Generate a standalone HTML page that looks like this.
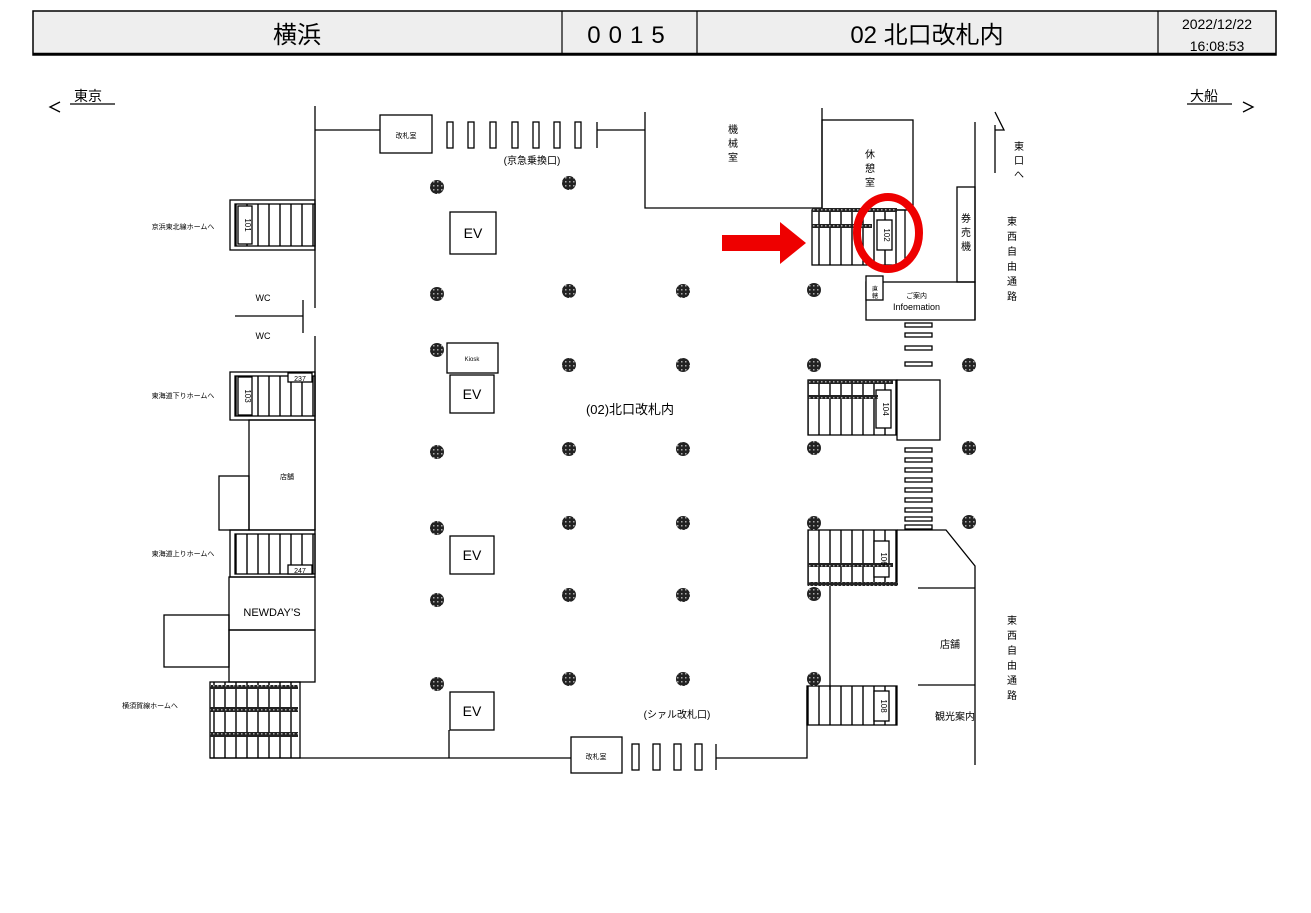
<!DOCTYPE html>
<html><head><meta charset="utf-8"><style>
html,body{margin:0;padding:0;background:#fff;}
svg{display:block;font-family:"Liberation Sans","Noto Sans CJK JP",sans-serif;}
</style></head><body>
<svg width="1311" height="913" viewBox="0 0 1311 913" xmlns="http://www.w3.org/2000/svg">
<defs>
<pattern id="st" width="11" height="10" patternUnits="userSpaceOnUse"><line x1="5" y1="0" x2="5" y2="10" stroke="#000" stroke-width="1.4"/></pattern>
<pattern id="dt" width="4" height="4" patternUnits="userSpaceOnUse"><rect width="4" height="4" fill="#222"/><rect x="1" y="1" width="1.5" height="1.5" fill="#aaa"/></pattern>
</defs>
<!-- header -->
<rect x="33" y="11" width="1243" height="44" fill="#eeeeee" stroke="#000" stroke-width="1.5"/>
<line x1="33" y1="54" x2="1276" y2="54" stroke="#000" stroke-width="2.5"/>
<line x1="562" y1="11" x2="562" y2="55" stroke="#000" stroke-width="1.2"/>
<line x1="697" y1="11" x2="697" y2="55" stroke="#000" stroke-width="1.2"/>
<line x1="1158" y1="11" x2="1158" y2="55" stroke="#000" stroke-width="1.2"/>
<text x="297" y="43" font-size="24" text-anchor="middle">横浜</text>
<text x="630" y="43" font-size="24" text-anchor="middle" letter-spacing="8">0015</text>
<text x="927" y="43" font-size="24" text-anchor="middle">02 北口改札内</text>
<text x="1217" y="29" font-size="14" text-anchor="middle">2022/12/22</text>
<text x="1217" y="51" font-size="14" text-anchor="middle">16:08:53</text>

<g fill="none" stroke="#000" stroke-width="1.3">
<!-- direction arrows -->
<line x1="70" y1="104" x2="115" y2="104"/><path d="M60 102 L50 107 L60 112"/>
<line x1="1187" y1="104" x2="1232" y2="104"/><path d="M1243 102 L1253 107 L1243 112"/>
<!-- top walls -->
<line x1="315" y1="106" x2="315" y2="308"/>
<line x1="315" y1="336" x2="315" y2="530"/>
<line x1="315" y1="130" x2="380" y2="130"/>
<rect x="380" y="115" width="52" height="38"/>
<rect x="447" y="122" width="6" height="26"/><rect x="468" y="122" width="6" height="26"/>
<rect x="490" y="122" width="6" height="26"/><rect x="512" y="122" width="6" height="26"/>
<rect x="533" y="122" width="6" height="26"/><rect x="554" y="122" width="6" height="26"/>
<rect x="575" y="122" width="6" height="26"/>
<line x1="597" y1="122" x2="597" y2="148"/><line x1="597" y1="130" x2="645" y2="130"/>
<polyline points="645,112 645,208 822,208"/>
<line x1="822" y1="108" x2="822" y2="208"/>
<rect x="822" y="120" width="91" height="90"/>
<line x1="975" y1="122" x2="975" y2="320"/>
<rect x="957" y="187" width="18" height="95"/>
<line x1="995" y1="173" x2="995" y2="125"/><path d="M995 112 L1004 130 L995 130"/>
<rect x="866" y="282" width="109" height="38"/>
<rect x="866" y="276" width="17" height="24" fill="#fff"/>
<!-- WC -->
<line x1="235" y1="316" x2="303" y2="316"/><line x1="303" y1="300" x2="303" y2="333"/>
<!-- left boxes -->
<rect x="249" y="420" width="66" height="110"/>
<rect x="219" y="476" width="30" height="54"/>
<rect x="229" y="577" width="86" height="53"/>
<rect x="229" y="630" width="86" height="52"/>
<rect x="164" y="615" width="65" height="52"/>
<!-- bottom walls -->
<line x1="210" y1="758" x2="571" y2="758"/>
<line x1="449" y1="730" x2="449" y2="758"/>
<rect x="571" y="737" width="51" height="36"/>
<rect x="632" y="744" width="7" height="26"/><rect x="653" y="744" width="7" height="26"/>
<rect x="674" y="744" width="7" height="26"/><rect x="695" y="744" width="7" height="26"/>
<line x1="716" y1="744" x2="716" y2="770"/>
<polyline points="716,758 807,758 807,690"/>
<line x1="830" y1="585" x2="830" y2="690"/>
<polyline points="897,530 946,530 975,566 975,765"/>
<line x1="918" y1="588" x2="975" y2="588"/>
<line x1="918" y1="685" x2="975" y2="685"/>
<!-- EV / kiosk -->
<rect x="450" y="212" width="46" height="42"/>
<rect x="447" y="343" width="51" height="30"/>
<rect x="450" y="375" width="44" height="38"/>
<rect x="450" y="536" width="44" height="38"/>
<rect x="450" y="692" width="44" height="38"/>
<!-- stairs -->
<rect x="230" y="200" width="85" height="50"/><rect x="235" y="204" width="80" height="42" fill="url(#st)"/>
<rect x="230" y="372" width="85" height="48"/><rect x="235" y="376" width="80" height="40" fill="url(#st)"/>
<rect x="230" y="530" width="85" height="47"/><rect x="235" y="534" width="80" height="40" fill="url(#st)"/>
<rect x="210" y="682" width="90" height="76" fill="url(#st)"/>
<rect x="812" y="210" width="93" height="55" fill="url(#st)"/>
<rect x="808" y="380" width="89" height="55" fill="url(#st)"/>
<rect x="897" y="380" width="43" height="60" fill="#fff"/>
<rect x="808" y="530" width="89" height="55" fill="url(#st)"/>
<rect x="807" y="686" width="90" height="39" fill="url(#st)"/>
<!-- stair number tags -->
<rect x="238" y="206" width="14" height="38" fill="#fff"/>
<rect x="238" y="377" width="14" height="38" fill="#fff"/>
<rect x="288" y="373" width="24" height="9" fill="#fff"/>
<rect x="288" y="565" width="24" height="9" fill="#fff"/>
<rect x="877" y="220" width="15" height="30" fill="#fff"/>
<rect x="876" y="390" width="15" height="38" fill="#fff"/>
<rect x="874" y="541" width="15" height="36" fill="#fff"/>
<rect x="874" y="691" width="15" height="30" fill="#fff"/>
</g>
<!-- thick tread bands -->
<g fill="url(#dt)">
<rect x="812" y="208" width="85" height="4"/><rect x="812" y="224" width="60" height="4"/>
<rect x="808" y="380" width="85" height="4"/><rect x="808" y="395" width="70" height="4"/>
<rect x="808" y="563" width="85" height="4"/><rect x="808" y="582" width="90" height="4"/>
<rect x="210" y="685" width="88" height="4"/><rect x="210" y="707" width="88" height="5"/><rect x="210" y="732" width="88" height="5"/>
</g>
<!-- crosswalk -->
<g fill="#fff" stroke="#000" stroke-width="1.3">
<rect x="905" y="323" width="27" height="4"/><rect x="905" y="333" width="27" height="4"/>
<rect x="905" y="346" width="27" height="4"/><rect x="905" y="362" width="27" height="4"/>
<rect x="905" y="448" width="27" height="4"/><rect x="905" y="458" width="27" height="4"/>
<rect x="905" y="468" width="27" height="4"/><rect x="905" y="478" width="27" height="4"/>
<rect x="905" y="488" width="27" height="4"/><rect x="905" y="498" width="27" height="4"/>
<rect x="905" y="508" width="27" height="4"/><rect x="905" y="517" width="27" height="4"/>
<rect x="905" y="525" width="27" height="4"/>
</g>
<!-- columns -->
<g fill="url(#dt)">
<circle cx="437" cy="187" r="7"/><circle cx="569" cy="183" r="7"/>
<circle cx="437" cy="294" r="7"/><circle cx="569" cy="291" r="7"/><circle cx="683" cy="291" r="7"/><circle cx="814" cy="290" r="7"/>
<circle cx="437" cy="350" r="7"/>
<circle cx="569" cy="365" r="7"/><circle cx="683" cy="365" r="7"/><circle cx="814" cy="365" r="7"/><circle cx="969" cy="365" r="7"/>
<circle cx="437" cy="452" r="7"/><circle cx="569" cy="449" r="7"/><circle cx="683" cy="449" r="7"/><circle cx="814" cy="448" r="7"/><circle cx="969" cy="448" r="7"/>
<circle cx="437" cy="528" r="7"/><circle cx="569" cy="523" r="7"/><circle cx="683" cy="523" r="7"/><circle cx="814" cy="523" r="7"/><circle cx="969" cy="522" r="7"/>
<circle cx="437" cy="600" r="7"/><circle cx="569" cy="595" r="7"/><circle cx="683" cy="595" r="7"/><circle cx="814" cy="594" r="7"/>
<circle cx="437" cy="684" r="7"/><circle cx="569" cy="679" r="7"/><circle cx="683" cy="679" r="7"/><circle cx="814" cy="679" r="7"/>
</g>
<!-- texts -->
<g fill="#000">
<text x="74" y="101" font-size="14">東京</text>
<text x="1190" y="101" font-size="14">大船</text>
<text x="406" y="138" font-size="7" text-anchor="middle">改札室</text>
<text x="532" y="164" font-size="10" text-anchor="middle">(京急乗換口)</text>
<text x="473" y="238" font-size="14" text-anchor="middle">EV</text>
<text x="472" y="399" font-size="14" text-anchor="middle">EV</text>
<text x="472" y="560" font-size="14" text-anchor="middle">EV</text>
<text x="472" y="716" font-size="14" text-anchor="middle">EV</text>
<text x="472" y="361" font-size="6" text-anchor="middle">Kiosk</text>
<text x="630" y="414" font-size="13" text-anchor="middle">(02)北口改札内</text>
<text x="677" y="718" font-size="10" text-anchor="middle">(シァル改札口)</text>
<text x="596" y="759" font-size="7" text-anchor="middle">改札室</text>
<text x="263" y="301" font-size="9" text-anchor="middle">WC</text>
<text x="263" y="339" font-size="9" text-anchor="middle">WC</text>
<text x="183" y="229" font-size="7" text-anchor="middle">京浜東北線ホームへ</text>
<text x="183" y="398" font-size="7" text-anchor="middle">東海道下りホームへ</text>
<text x="183" y="556" font-size="7" text-anchor="middle">東海道上りホームへ</text>
<text x="150" y="708" font-size="7" text-anchor="middle">横須賀線ホームへ</text>
<text x="287" y="479" font-size="7" text-anchor="middle">店舗</text>
<text x="272" y="616" font-size="11" text-anchor="middle">NEWDAY’S</text>
<text x="300" y="381" font-size="7" text-anchor="middle">237</text>
<text x="300" y="573" font-size="7" text-anchor="middle">247</text>
<text x="950" y="648" font-size="10" text-anchor="middle">店舗</text>
<text x="955" y="720" font-size="10" text-anchor="middle">観光案内</text>
<text x="906" y="298" font-size="7">ご案内</text>
<text x="893" y="310" font-size="9">Infoemation</text>
<g font-size="10" text-anchor="middle">
<text x="733" y="133">機</text><text x="733" y="147">械</text><text x="733" y="161">室</text>
<text x="870" y="158">休</text><text x="870" y="172">憩</text><text x="870" y="186">室</text>
<text x="966" y="222">券</text><text x="966" y="236">売</text><text x="966" y="250">機</text>
<text x="1019" y="150">東</text><text x="1019" y="164">口</text><text x="1019" y="178">へ</text>
<text x="1012" y="225">東</text><text x="1012" y="240">西</text><text x="1012" y="255">自</text><text x="1012" y="270">由</text><text x="1012" y="285">通</text><text x="1012" y="300">路</text>
<text x="1012" y="624">東</text><text x="1012" y="639">西</text><text x="1012" y="654">自</text><text x="1012" y="669">由</text><text x="1012" y="684">通</text><text x="1012" y="699">路</text>
</g>
<text x="875" y="291" font-size="6" text-anchor="middle">直</text>
<text x="875" y="298" font-size="6" text-anchor="middle">轄</text>
<g font-size="8" text-anchor="middle">
<text transform="translate(245,225) rotate(90)">101</text>
<text transform="translate(245,396) rotate(90)">103</text>
<text transform="translate(884,235) rotate(90)">102</text>
<text transform="translate(883,409) rotate(90)">104</text>
<text transform="translate(881,559) rotate(90)">106</text>
<text transform="translate(881,706) rotate(90)">108</text>
</g>
</g>
<!-- red marks -->
<polygon points="722,235 780,235 780,222 806,243 780,264 780,251 722,251" fill="#ee0000"/>
<ellipse cx="888" cy="233" rx="31" ry="36" fill="none" stroke="#ee0000" stroke-width="8"/>
</svg>
</body></html>
